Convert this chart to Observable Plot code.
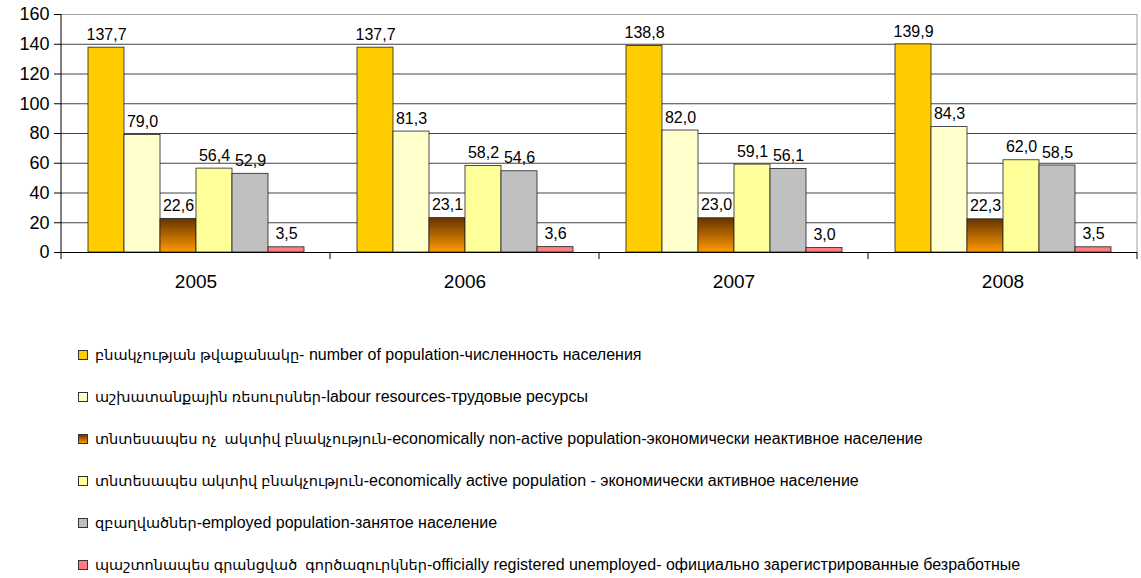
<!DOCTYPE html>
<html>
<head>
<meta charset="utf-8">
<script src="https://cdn.jsdelivr.net/npm/d3@7"></script>
<script src="https://cdn.jsdelivr.net/npm/@observablehq/plot@0.6"></script>
<style>
  html, body { margin: 0; padding: 0; background: #fff; }
  #wrap { position: relative; width: 1141px; height: 578px; font-family: Arial, "Liberation Sans", "DejaVu Sans", sans-serif; }
  .item { position: absolute; left: 78px; height: 20px; display: flex; align-items: center; font-size: 16px; color: #000; white-space: pre; }
  .arm { font-size: 14.5px; }
  .sw { width: 8px; height: 8px; border: 1px solid #333; margin-right: 7px; flex: none; }
</style>
</head>
<body>
<div id="wrap"></div>
<script>
const years = ["2005", "2006", "2007", "2008"];
const seriesKeys = ["population", "labour", "nonActive", "active", "employed", "unemployed"];
const seriesLabels = [
  "բնակչության թվաքանակը- number of population-численность населения",
  "աշխատանքային ռեսուրսներ-labour resources-трудовые ресурсы",
  "տնտեսապես ոչ  ակտիվ բնակչություն-economically non-active population-экономически неактивное население",
  "տնտեսապես ակտիվ բնակչություն-economically active population - экономически активное население",
  "զբաղվածներ-employed population-занятое население",
  "պաշտոնապես գրանցված  գործազուրկներ-officially registered unemployed- официально зарегистрированные безработные"
];
const population = [137.7, 137.7, 138.8, 139.9];
const labour = [79.0, 81.3, 82.0, 84.3];
const nonActive = [22.6, 23.1, 23.0, 22.3];
const active = [56.4, 58.2, 59.1, 62.0];
const employed = [52.9, 54.6, 56.1, 58.5];
const unemployed = [3.5, 3.6, 3.0, 3.5];
const yTicks = [0, 20, 40, 60, 80, 100, 120, 140, 160];

const colors = ["#FFCC00", "#FFFFCC", "url(#gradNonActive)", "#FFFF99", "#C0C0C0", "#FF7C80"];
const legendFills = ["#FFCC00", "#FFFFCC", "linear-gradient(#663300, #FF9900)", "#FFFF99", "#C0C0C0", "#FF7C80"];

const seriesValues = [population, labour, nonActive, active, employed, unemployed];
const table = [];
years.forEach((year, i) => {
  seriesKeys.forEach((s, j) => table.push({year, series: s, value: seriesValues[j][i]}));
});
const fmt = v => v.toFixed(1).replace(".", ",");

const plot = Plot.plot({
  width: 1141,
  height: 300,
  marginLeft: 61,
  marginRight: 4,
  marginTop: 14,
  marginBottom: 48,
  style: {fontFamily: "Arial, 'Liberation Sans', sans-serif", background: "#fff"},
  fx: {domain: years, padding: 0, label: null},
  x: {domain: seriesKeys, paddingInner: 0, paddingOuter: 0.72, axis: null},
  y: {domain: [0, 160], label: null},
  color: {domain: seriesKeys, range: colors},
  marks: [
    Plot.ruleY(yTicks.filter(t => t > 0 && t < 160), {stroke: "#444", strokeWidth: 1}),
    Plot.ruleY([160], {stroke: "#a0a0a0", strokeWidth: 1}),
    Plot.barY(table, {fx: "year", x: "series", y: "value", fill: "series", stroke: "#222", strokeWidth: 0.8}),
    Plot.text(table, {fx: "year", x: "series", y: "value", text: d => fmt(d.value), dy: -13, fontSize: 16, fill: "#000"}),
    Plot.ruleY([0], {stroke: "#000", strokeWidth: 1}),
    Plot.axisY({ticks: yTicks, tickSize: 7, tickPadding: 5, fontSize: 18, label: null, stroke: "#000"}),
    Plot.axisFx({anchor: "bottom", tickSize: 0, tickPadding: 22, fontSize: 19, label: null})
  ]
});

const svg = d3.select(plot);
const defs = svg.insert("defs", ":first-child");
const g = defs.append("linearGradient").attr("id", "gradNonActive").attr("x1", 0).attr("y1", 0).attr("x2", 0).attr("y2", 1);
g.append("stop").attr("offset", "0%").attr("stop-color", "#663300");
g.append("stop").attr("offset", "100%").attr("stop-color", "#FF9900");

// structural lines from the plot's own scales
const fx = plot.scale("fx"), ys = plot.scale("y");
const y0 = ys.apply(0), yTop = ys.apply(160);
const left = fx.apply(years[0]);
const right = fx.apply(years[years.length - 1]) + fx.bandwidth;
const lines = svg.append("g");
lines.append("line").attr("x1", left).attr("x2", left).attr("y1", yTop).attr("y2", y0 + 7).attr("stroke", "#000");
lines.append("line").attr("x1", right).attr("x2", right).attr("y1", yTop).attr("y2", y0).attr("stroke", "#a0a0a0");
years.forEach(yv => {
  const xb = fx.apply(yv) + fx.bandwidth;
  lines.append("line").attr("x1", xb).attr("x2", xb).attr("y1", y0).attr("y2", y0 + 7).attr("stroke", "#000");
});

const wrap = document.getElementById("wrap");
wrap.appendChild(plot);
plot.style.position = "absolute";
plot.style.left = "0px";
plot.style.top = "0px";

const legendCenters = [355, 397, 439, 481, 523, 565];
seriesLabels.forEach((label, i) => {
  const div = document.createElement("div");
  div.className = "item";
  div.style.top = (legendCenters[i] - 10) + "px";
  const sw = document.createElement("span");
  sw.className = "sw";
  sw.style.background = legendFills[i];
  div.appendChild(sw);
  const m = label.match(/^([\u0530-\u058F\s]+)(.*)$/);
  const arm = document.createElement("span");
  arm.className = "arm";
  arm.textContent = m ? m[1] : "";
  div.appendChild(arm);
  div.appendChild(document.createTextNode(m ? m[2] : label));
  wrap.appendChild(div);
});
</script>
</body>
</html>
